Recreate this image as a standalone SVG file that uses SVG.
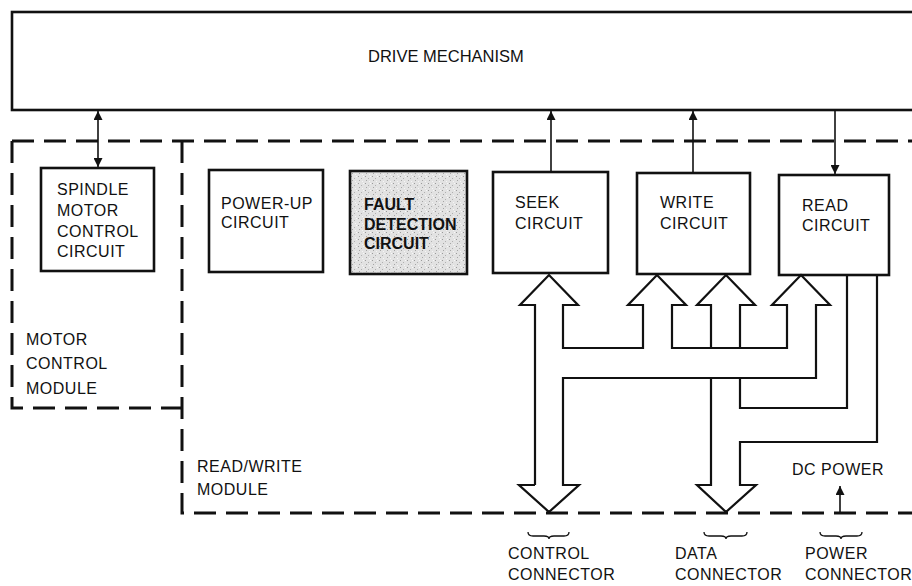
<svg xmlns="http://www.w3.org/2000/svg" width="912" height="586" viewBox="0 0 912 586">
<style>
  .box { fill: #fff; stroke: #111; stroke-width: 2.6; }
  .fault { fill: url(#stipple); stroke: #111; stroke-width: 2.6; }
  .t { font-family: "Liberation Sans", Arial, sans-serif; font-size: 16px; letter-spacing: 0.5px; fill: #111; }
  .tb { font-family: "Liberation Sans", Arial, sans-serif; font-size: 16px; font-weight: bold; fill: #111; }
  .dash { fill: none; stroke: #111; stroke-width: 3; stroke-dasharray: 22 10; }
  .bus { fill: none; stroke: #111; stroke-width: 2.2; stroke-linejoin: miter; }
  .thin { fill: none; stroke: #111; stroke-width: 1.6; }
  .brace { fill: none; stroke: #111; stroke-width: 1.3; }
</style>
<defs>
  <marker id="ah" viewBox="0 0 10 10" refX="10" refY="5" markerWidth="10" markerHeight="9" markerUnits="userSpaceOnUse" orient="auto-start-reverse">
    <path d="M0,0 L10,5 L0,10 Z" fill="#111"/>
  </marker>
  <pattern id="stipple" width="7" height="7" patternUnits="userSpaceOnUse">
    <rect width="7" height="7" fill="#e2e2e2"/>
    <rect x="1" y="1" width="1" height="1" fill="#9a9a9a"/>
    <rect x="4" y="3" width="1" height="1" fill="#b0b0b0"/>
    <rect x="2" y="5" width="1" height="1" fill="#a5a5a5"/>
    <rect x="5" y="6" width="1" height="1" fill="#f5f5f5"/>
    <rect x="6" y="1" width="1" height="1" fill="#f8f8f8"/>
  </pattern>
</defs>
<rect width="912" height="586" fill="#fff"/>

<g id="modules">
  <path class="dash" d="M12,141 H912"/>
  <path class="dash" d="M12,141 V408 H182"/>
  <path class="dash" d="M182,141 V513 H912"/>
  <text class="t" x="26" y="345">MOTOR</text>
  <text class="t" x="26" y="369">CONTROL</text>
  <text class="t" x="26" y="394">MODULE</text>
  <text class="t" x="197" y="472">READ/WRITE</text>
  <text class="t" x="197" y="495">MODULE</text>
</g>

<g id="drive-mechanism">
  <rect class="box" x="12" y="12" width="912" height="98"/>
  <text class="t" x="368" y="62" style="letter-spacing:0px;font-size:16.5px">DRIVE MECHANISM</text>
</g>

<g id="spindle">
  <rect class="box" x="41" y="168" width="113" height="103"/>
  <text class="t" x="57" y="195">SPINDLE</text>
  <text class="t" x="57" y="216">MOTOR</text>
  <text class="t" x="57" y="237">CONTROL</text>
  <text class="t" x="57" y="257">CIRCUIT</text>
</g>

<g id="power-up">
  <rect class="box" x="209" y="170" width="114" height="102"/>
  <text class="t" x="221" y="209">POWER-UP</text>
  <text class="t" x="221" y="228">CIRCUIT</text>
</g>

<g id="fault">
  <rect class="fault" x="350" y="171" width="117" height="103"/>
  <text class="tb" x="364" y="210">FAULT</text>
  <text class="tb" x="364" y="230">DETECTION</text>
  <text class="tb" x="364" y="249">CIRCUIT</text>
</g>

<g id="seek">
  <rect class="box" x="493" y="172" width="115" height="101"/>
  <text class="t" x="515" y="208">SEEK</text>
  <text class="t" x="515" y="229">CIRCUIT</text>
</g>

<g id="write">
  <rect class="box" x="637" y="173" width="113" height="101"/>
  <text class="t" x="660" y="208">WRITE</text>
  <text class="t" x="660" y="229">CIRCUIT</text>
</g>

<g id="read">
  <rect class="box" x="779" y="175" width="110" height="100"/>
  <text class="t" x="802" y="211">READ</text>
  <text class="t" x="802" y="231">CIRCUIT</text>
</g>

<g id="connectors-labels">
  <text class="t" x="792" y="475">DC POWER</text>
  <path class="brace" d="M528,532 q0,4 5,4 H544 q5,0 5,3 q0,-3 5,-3 H564 q5,0 5,-4"/>
  <path class="brace" d="M704,532 q0,4 5,4 H721 q5,0 5,3 q0,-3 5,-3 H742 q5,0 5,-4"/>
  <path class="brace" d="M820,532 q0,4 5,4 H836 q5,0 5,3 q0,-3 5,-3 H857 q5,0 5,-4"/>
  <text class="t" x="508" y="559">CONTROL</text>
  <text class="t" x="508" y="580">CONNECTOR</text>
  <text class="t" x="675" y="559">DATA</text>
  <text class="t" x="675" y="580">CONNECTOR</text>
  <text class="t" x="805" y="559">POWER</text>
  <text class="t" x="805" y="580">CONNECTOR</text>
</g>

<g id="connectors">
  <path class="thin" d="M98,111 V167" marker-start="url(#ah)" marker-end="url(#ah)"/>
  <path class="thin" d="M551,172 V111" marker-end="url(#ah)"/>
  <path class="thin" d="M693,173 V111" marker-end="url(#ah)"/>
  <path class="thin" d="M835,110 V174" marker-end="url(#ah)"/>
  <path class="thin" d="M840,513 V486" marker-end="url(#ah)"/>
  <path class="bus" d="M535,485 V305 H520 L549,275 L578,305 H563 V348 H643 V305 H628 L657,275 L686,305 H672 V348 H787 V305 H772 L801,275 L830,305 H816 V378 H563 V485 H579 L549,512 L519,485 H535"/>
  <path class="bus" d="M711,348 V305 H697 L726,275 L755,305 H740 V348"/>
  <path class="bus" d="M711,378 V485 H697 L726,512 L756,485 H740 V442 H877 V275"/>
  <path class="bus" d="M740,378 V408 H847 V275"/>
</g>
</svg>
